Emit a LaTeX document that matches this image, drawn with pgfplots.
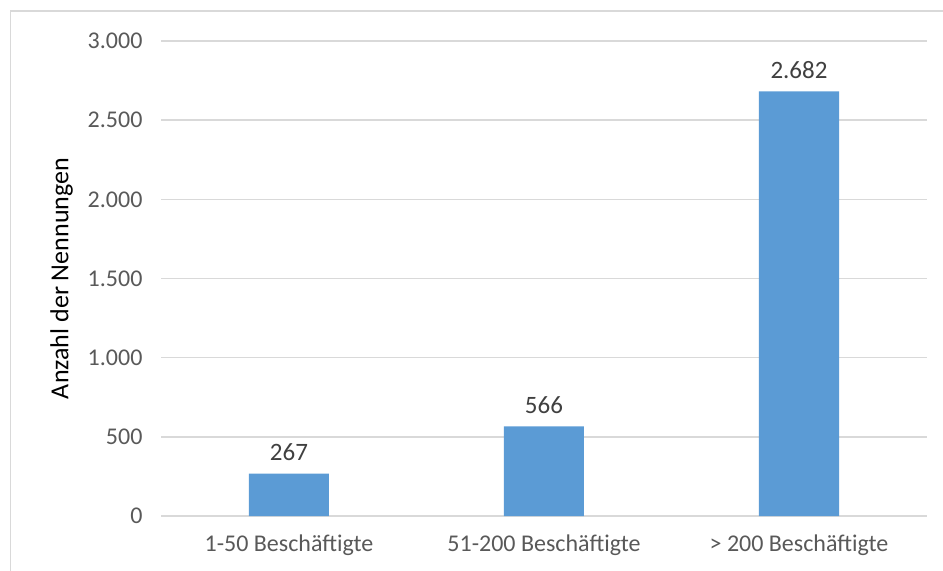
\documentclass[border=0pt]{standalone}
\usepackage{pgfplots}
\pgfplotsset{compat=1.18}
\usepackage{fontspec}
\setmainfont{Carlito}
\definecolor{barblue}{HTML}{5B9BD5}
\definecolor{gridgray}{HTML}{D9D9D9}
\definecolor{ticktext}{HTML}{595959}
\definecolor{labeltext}{HTML}{404040}
\begin{document}
\begin{tikzpicture}
\path[use as bounding box] (-80.75pt,-27pt) rectangle (390.75pt,258pt);
\draw[gridgray, line width=0.75pt] (-75.5pt,-30pt) -- (-75.5pt,252.5pt) -- (395pt,252.5pt);
\begin{axis}[
  at={(0,0)}, anchor=south west,
  scale only axis,
  width=382.5pt, height=237.5pt,
  xmin=-0.5, xmax=2.5,
  ymin=0, ymax=3000,
  xtick=data,
  xticklabels={1-50 Beschäftigte, 51-200 Beschäftigte, > 200 Beschäftigte},
  ytick={0,500,...,3000},
  major tick length=0pt,
  axis line style={draw=none},
  ymajorgrids,
  grid style={gridgray, line width=0.75pt},
  /pgf/number format/.cd, 1000 sep={.}, assume math mode=true,
  /pgfplots/.cd,
  tick label style={font=\fontsize{12}{14}\selectfont, text=ticktext},
  yticklabel style={xshift=-6pt},
  xticklabel style={yshift=-6pt},
  ylabel={Anzahl der Nennungen},
  ylabel style={at={(axis description cs:-0.1307,0.5)}, anchor=center, font=\fontsize{13}{15}\selectfont, text=black},
  nodes near coords,
  nodes near coords style={font=\fontsize{12.5}{15}\selectfont, text=labeltext, yshift=3pt},
  ybar,
  bar width=40pt,
]
\addplot[fill=barblue, draw=none] coordinates {(0,267) (1,566) (2,2682)};
\end{axis}
\end{tikzpicture}
\end{document}
